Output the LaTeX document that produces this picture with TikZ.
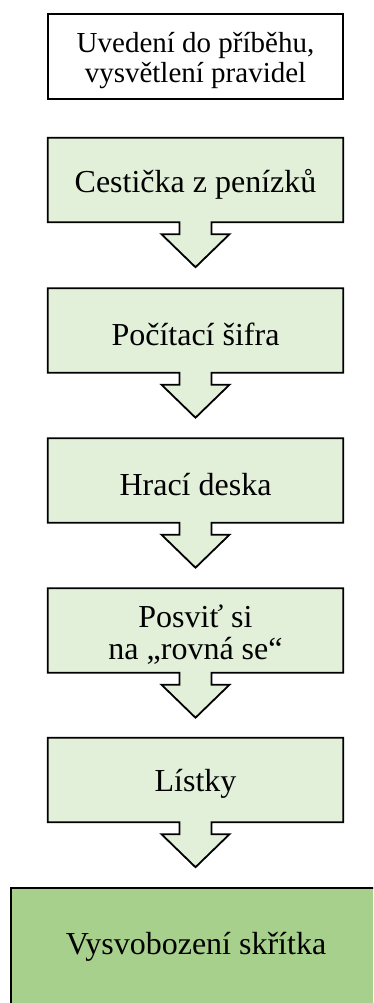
\documentclass[tikz,border=0pt]{standalone}
\usepackage{fontspec}
\setmainfont{Liberation Serif}
\usetikzlibrary{backgrounds}
\definecolor{lightgreen}{HTML}{E2EFD9}
\definecolor{midgreen}{HTML}{A8D08D}
\begin{document}
\begin{tikzpicture}[x=1pt,y=-1pt,
  boxshape/.style={minimum width=295pt, minimum height=84pt, inner sep=0pt},
  boxtext/.style={inner sep=0pt, align=center, font=\fontsize{32}{32}\selectfont},
  callout/.style={draw=black, line width=1.8pt, fill=lightgreen, line join=miter},
  plainbox/.style={draw=black, line width=1.8pt, fill=white, minimum width=295pt,
    minimum height=85pt, inner sep=0pt},
  plaintext/.style={inner sep=0pt, align=center, font=\fontsize{29}{30}\selectfont},
  finalbox/.style={draw=black, line width=2.5pt, fill=midgreen, minimum width=370pt,
    minimum height=118pt, inner sep=0pt, align=center, font=\fontsize{32}{32}\selectfont}]
\useasboundingbox (0,0) rectangle (373,1003);
\clip (0,0) rectangle (373,1003);
\node[plainbox] (start) at (195.5,56.5) {};
\node[plaintext] (t0) at ([yshift=-4pt]start.center) {Uvedení do příběhu,\\vysvětlení pravidel};
\node[boxshape] (b1) at (195.5,180) {};
\node[boxshape] (b2) at (195.5,330.5) {};
\node[boxshape] (b3) at (195.5,480.5) {};
\node[boxshape] (b4) at (195.5,630.5) {};
\node[boxshape] (b5) at (195.5,780) {};
\node[boxtext] (t1) at ([yshift=-4pt]b1.center) {Cestička z penízků};
\node[boxtext] (t2) at ([yshift=-4pt]b2.center) {Počítací šifra};
\node[boxtext] (t3) at ([yshift=-4pt]b3.center) {Hrací deska};
\node[boxtext] (t4) at ([yshift=-4pt]b4.center) {Posviť si\\na „rovná se“};
\node[boxtext] (t5) at ([yshift=-4pt]b5.center) {Lístky};
\node[finalbox] (end) at (196,947) {Vysvobození skřítka};
\begin{pgfonlayer}{background}
\fill[white] (0,0) rectangle (373,1003);
\foreach \b in {b1,b2,b3,b4,b5}{
  \draw[callout] (\b.north west) -- (\b.north east) -- (\b.south east)
    -- ([xshift=16pt]\b.south) -- ++(0,12) -- ++(18,0) -- ++(-34,33)
    -- ++(-34,-33) -- ++(18,0) -- ++(0,-12) -- (\b.south west) -- cycle;
}
\end{pgfonlayer}
\end{tikzpicture}
\end{document}
